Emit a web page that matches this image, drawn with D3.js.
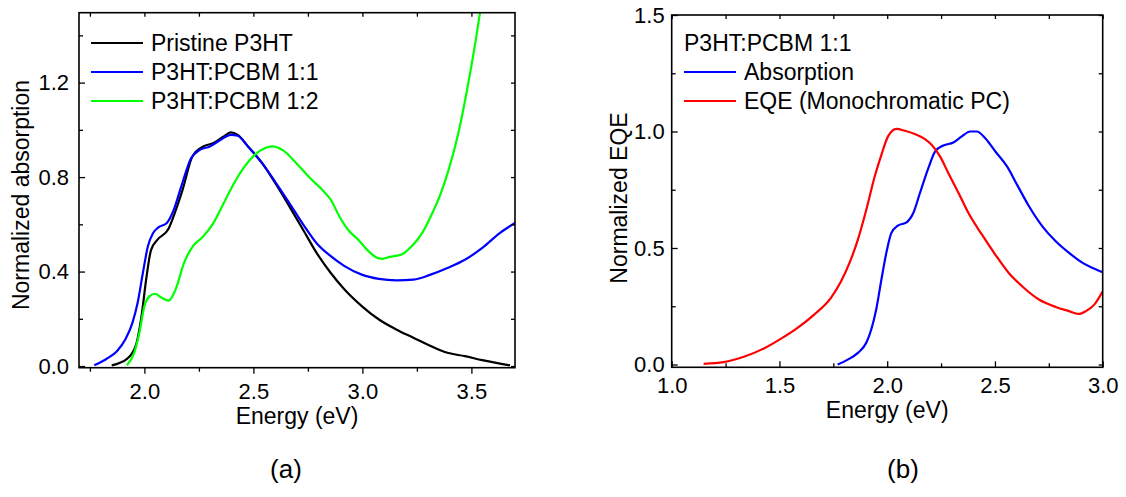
<!DOCTYPE html>
<html>
<head>
<meta charset="utf-8">
<script src="https://cdn.jsdelivr.net/npm/d3@7"></script>
<style>
  html, body { margin: 0; padding: 0; background: #fff; }
  svg text { font-family: Arial, "Liberation Sans", sans-serif; fill: #000; }
</style>
</head>
<body>
<svg id="chart" width="1126" height="497"></svg>
<script>
// ---- Panel (a): normalized absorption vs. photon energy ----
const absSeries = ["Pristine P3HT", "P3HT:PCBM 1:1", "P3HT:PCBM 1:2"];
const absColors = ["#000000", "#0000ff", "#00ff00"];

const pristineE = [1.85,1.92,1.96,1.985,2.01,2.03,2.06,2.11,2.14,2.175,2.22,2.27,2.317,2.364,2.396,2.428,2.475,2.54,2.60,2.665,2.728,2.79,2.855,2.918,2.997,3.076,3.155,3.234,3.313,3.39,3.47,3.55,3.677];
const pristineA = [0.003,0.03,0.085,0.20,0.38,0.49,0.535,0.58,0.65,0.746,0.887,0.93,0.944,0.972,0.989,0.979,0.93,0.859,0.775,0.676,0.577,0.479,0.394,0.324,0.254,0.197,0.155,0.12,0.085,0.056,0.042,0.025,0.003];

const blend11E = [1.77,1.827,1.874,1.913,1.945,1.969,1.993,2.016,2.04,2.064,2.103,2.135,2.167,2.214,2.254,2.30,2.35,2.396,2.428,2.475,2.54,2.60,2.665,2.728,2.79,2.855,2.918,2.997,3.076,3.155,3.234,3.313,3.39,3.47,3.55,3.63,3.70];
const blend11A = [0.003,0.031,0.063,0.113,0.183,0.268,0.394,0.507,0.563,0.587,0.606,0.662,0.754,0.88,0.915,0.93,0.958,0.979,0.975,0.93,0.859,0.78,0.69,0.60,0.52,0.465,0.423,0.387,0.369,0.363,0.366,0.387,0.415,0.45,0.50,0.563,0.606];

const blend12E = [1.92,1.953,1.977,2.0,2.024,2.048,2.08,2.111,2.143,2.182,2.222,2.27,2.317,2.364,2.412,2.46,2.506,2.554,2.586,2.633,2.697,2.76,2.823,2.855,2.894,2.934,2.981,3.028,3.068,3.092,3.124,3.179,3.226,3.274,3.321,3.36,3.40,3.44,3.48,3.52,3.56];
const blend12A = [0.003,0.056,0.141,0.254,0.296,0.306,0.289,0.277,0.324,0.437,0.507,0.549,0.606,0.69,0.775,0.845,0.894,0.923,0.93,0.915,0.859,0.796,0.739,0.704,0.634,0.577,0.535,0.486,0.458,0.454,0.462,0.472,0.507,0.563,0.648,0.732,0.845,0.986,1.169,1.38,1.62];

const absXTicks = [2.0, 2.5, 3.0, 3.5];
const absYTicks = [0.0, 0.4, 0.8, 1.2];

// ---- Panel (b): absorption vs. EQE of the 1:1 blend ----
const eqeSeries = ["Absorption", "EQE (Monochromatic PC)"];
const eqeColors = ["#0000ff", "#ff0000"];

const absorbE = [1.77,1.817,1.864,1.903,1.926,1.949,1.973,1.996,2.019,2.05,2.09,2.121,2.152,2.191,2.222,2.261,2.307,2.346,2.385,2.416,2.455,2.502,2.556,2.603,2.658,2.72,2.782,2.844,2.907,2.953,3.0];
const absorbV = [0.0,0.021,0.05,0.093,0.15,0.236,0.364,0.479,0.564,0.596,0.61,0.65,0.736,0.843,0.914,0.94,0.953,0.979,1.0,1.0,0.971,0.914,0.85,0.771,0.679,0.593,0.529,0.479,0.436,0.414,0.396];

const eqeE = [1.148,1.241,1.335,1.428,1.506,1.584,1.661,1.739,1.786,1.825,1.864,1.903,1.942,1.973,2.004,2.043,2.082,2.128,2.175,2.206,2.245,2.284,2.331,2.377,2.44,2.502,2.564,2.626,2.704,2.782,2.844,2.888,2.922,2.961,3.0];
const eqeV = [0.003,0.01,0.033,0.069,0.11,0.157,0.214,0.286,0.357,0.436,0.536,0.664,0.807,0.9,0.979,1.011,1.003,0.989,0.967,0.943,0.893,0.821,0.736,0.65,0.557,0.471,0.393,0.336,0.279,0.247,0.229,0.217,0.229,0.257,0.314];

const eqeXTicks = [1.0, 1.5, 2.0, 2.5, 3.0];
const eqeYTicks = [0.0, 0.5, 1.0, 1.5];

const svg = d3.select("#chart");

function zip(xs, ys) { return xs.map((x, i) => ({ x, y: ys[i] })); }
const fmt = d3.format(".1f");

function drawPanel(cfg) {
  const g = svg.append("g");
  const x = d3.scaleLinear().domain(cfg.xDomain).range([cfg.left, cfg.right]);
  const y = d3.scaleLinear().domain(cfg.yDomain).range([cfg.bottom, cfg.top]);

  const clipId = "clip-" + cfg.id;
  svg.append("clipPath").attr("id", clipId).append("rect")
    .attr("x", cfg.left).attr("y", cfg.top)
    .attr("width", cfg.right - cfg.left).attr("height", cfg.bottom - cfg.top);

  // curves
  const line = d3.line().x(d => x(d.x)).y(d => y(d.y)).curve(d3.curveMonotoneX);
  cfg.series.forEach(s => {
    g.append("path").datum(zip(s.xs, s.ys))
      .attr("clip-path", `url(#${clipId})`)
      .attr("fill", "none").attr("stroke", s.color)
      .attr("stroke-width", 2.2).attr("stroke-linejoin", "round")
      .attr("d", line);
  });

  // axes (ticks on all four sides)
  const bottomAxis = d3.axisBottom(x).tickValues(cfg.xMinor).tickFormat("")
    .tickSizeInner(cfg.xOut ? 4 : -4).tickSizeOuter(0);
  const bottomMajor = d3.axisBottom(x).tickValues(cfg.xTicks).tickFormat(fmt)
    .tickSizeInner(cfg.xOut ? 6 : -6).tickSizeOuter(0).tickPadding(cfg.xPad);
  g.append("g").attr("transform", `translate(0,${cfg.bottom})`).call(bottomAxis);
  g.append("g").attr("class", "xmaj").attr("transform", `translate(0,${cfg.bottom})`).call(bottomMajor);

  g.append("g").attr("transform", `translate(0,${cfg.top})`)
    .call(d3.axisTop(x).tickValues(cfg.xMinor.concat(cfg.xTicks)).tickFormat("").tickSizeInner(-4).tickSizeOuter(0));
  g.append("g").attr("transform", `translate(${cfg.right},0)`)
    .call(d3.axisRight(y).tickValues(cfg.yMinor.concat(cfg.yTicks)).tickFormat("").tickSizeInner(-4).tickSizeOuter(0));
  g.append("g").attr("transform", `translate(${cfg.left},0)`)
    .call(d3.axisLeft(y).tickValues(cfg.yMinor).tickFormat("").tickSizeInner(-4).tickSizeOuter(0));
  g.append("g").attr("class", "ymaj").attr("transform", `translate(${cfg.left},0)`)
    .call(d3.axisLeft(y).tickValues(cfg.yTicks).tickFormat(fmt).tickSizeInner(-6).tickSizeOuter(0).tickPadding(cfg.yPad));

  g.selectAll(".domain").remove();
  g.selectAll(".tick line").attr("stroke", "#000").attr("stroke-width", 1.3);
  g.selectAll(".tick text").attr("font-size", 22).attr("font-family", "Arial, 'Liberation Sans', sans-serif").attr("fill", "#000");

  // frame
  g.append("rect").attr("x", cfg.left).attr("y", cfg.top)
    .attr("width", cfg.right - cfg.left).attr("height", cfg.bottom - cfg.top)
    .attr("fill", "none").attr("stroke", "#000").attr("stroke-width", 1.6);

  // axis titles
  g.append("text").attr("x", (cfg.left + cfg.right) / 2).attr("y", cfg.xTitleY)
    .attr("text-anchor", "middle").attr("font-size", 23).text("Energy (eV)");
  g.append("text").attr("transform", `translate(${cfg.yTitleX},${cfg.yTitleY}) rotate(-90)`)
    .attr("text-anchor", "middle").attr("font-size", 23).text(cfg.yTitle);

  // legend
  let ly = cfg.legendY;
  if (cfg.legendHeader) {
    g.append("text").attr("x", cfg.legendX).attr("y", ly).attr("dy", "0.35em")
      .attr("font-size", 23).text(cfg.legendHeader);
    ly += cfg.legendStep;
  }
  cfg.series.forEach((s, i) => {
    const yy = ly + i * cfg.legendStep;
    g.append("line").attr("x1", cfg.legendX).attr("x2", cfg.legendX + 52)
      .attr("y1", yy).attr("y2", yy).attr("stroke", s.color).attr("stroke-width", 2.2);
    g.append("text").attr("x", cfg.legendX + 60).attr("y", yy).attr("dy", "0.35em")
      .attr("font-size", 23).text(s.name);
  });

  // panel label
  svg.append("text").attr("x", cfg.labelX).attr("y", 478).attr("text-anchor", "middle")
    .attr("font-size", 26).text(cfg.label);
}

drawPanel({
  id: "a", left: 79, right: 515, top: 12.7, bottom: 367.7,
  xDomain: [1.7, 3.7], yDomain: [-0.007, 1.496],
  xTicks: absXTicks, xMinor: [1.75, 2.25, 2.75, 3.25],
  yTicks: absYTicks, yMinor: [0.2, 0.6, 1.0, 1.4],
  xOut: true, xPad: 10, yPad: 10,
  xTitleY: 424, yTitleX: 29, yTitleY: 195, yTitle: "Normalized absorption",
  legendX: 91, legendY: 43, legendStep: 29,
  series: [
    { name: absSeries[0], color: absColors[0], xs: pristineE, ys: pristineA },
    { name: absSeries[1], color: absColors[1], xs: blend11E, ys: blend11A },
    { name: absSeries[2], color: absColors[2], xs: blend12E, ys: blend12A }
  ],
  label: "(a)", labelX: 286
});

drawPanel({
  id: "b", left: 671.7, right: 1102.7, top: 15, bottom: 367.3,
  xDomain: [1.0, 3.0], yDomain: [-0.012, 1.5],
  xTicks: eqeXTicks, xMinor: [1.25, 1.75, 2.25, 2.75],
  yTicks: eqeYTicks, yMinor: [0.25, 0.75, 1.25],
  xOut: false, xPad: 10, yPad: 7,
  xTitleY: 418, yTitleX: 627, yTitleY: 198, yTitle: "Normalized EQE",
  legendX: 684, legendY: 43, legendStep: 29, legendHeader: "P3HT:PCBM 1:1",
  series: [
    { name: eqeSeries[0], color: eqeColors[0], xs: absorbE, ys: absorbV },
    { name: eqeSeries[1], color: eqeColors[1], xs: eqeE, ys: eqeV }
  ],
  label: "(b)", labelX: 903
});
</script>
</body>
</html>
